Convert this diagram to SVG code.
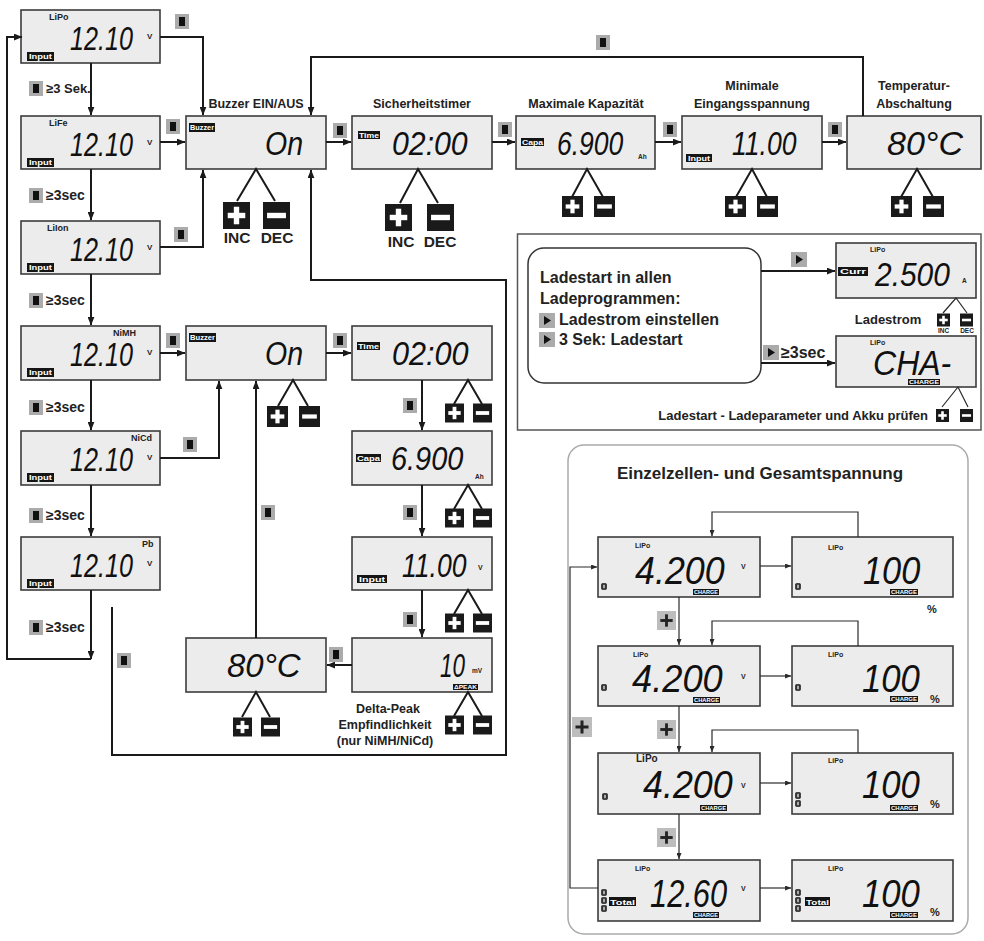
<svg xmlns="http://www.w3.org/2000/svg" width="984" height="941" viewBox="0 0 984 941">
<style>
.lcd{fill:#ececec;stroke:#3c3c3c;stroke-width:1.6}
.ln{fill:none;stroke:#1a1a1a;stroke-width:2}
.lt{fill:none;stroke:#2a2a2a;stroke-width:1.2}
.d{font-family:"Liberation Sans",Arial,sans-serif;font-style:italic;fill:#111}
.b{font-family:"Liberation Sans",Arial,Helvetica,sans-serif;font-weight:bold;fill:#222}
.tg{fill:#151515}
.tt{font-family:"Liberation Sans",Arial,sans-serif;font-weight:bold;fill:#fff}
.pnl{fill:none;stroke:#555;stroke-width:1.5}
</style>
<defs>
<marker id="a" viewBox="0 0 10 8" refX="9.5" refY="4" markerWidth="9" markerHeight="7" markerUnits="userSpaceOnUse" orient="auto"><path d="M0,0 L10,4 L0,8 z" fill="#1a1a1a"/></marker>
<marker id="as" viewBox="0 0 10 8" refX="9.5" refY="4" markerWidth="7" markerHeight="5" markerUnits="userSpaceOnUse" orient="auto"><path d="M0,0 L10,4 L0,8 z" fill="#2a2a2a"/></marker>
<symbol id="btn" viewBox="0 0 14 15"><rect width="14" height="15" fill="#ababab"/><rect x="4" y="3" width="6" height="9" fill="#111"/></symbol>
<symbol id="tri" viewBox="0 0 16 15"><rect width="16" height="15" fill="#ababab"/><path d="M5,3 L12,7.5 L5,12 z" fill="#111"/></symbol>
<symbol id="plus" viewBox="0 0 20 20"><rect width="20" height="20" fill="#1a1a1a"/><rect x="3.5" y="8" width="13" height="4" fill="#fff"/><rect x="8" y="3.5" width="4" height="13" fill="#fff"/></symbol>
<symbol id="minus" viewBox="0 0 20 20"><rect width="20" height="20" fill="#1a1a1a"/><rect x="3" y="8" width="14" height="4" fill="#fff"/></symbol>
<symbol id="gplus" viewBox="0 0 20 20"><rect width="20" height="20" fill="#bdbdbd"/><rect x="3.5" y="8.5" width="13" height="3" fill="#222"/><rect x="8.5" y="3.5" width="3" height="13" fill="#222"/></symbol>
<symbol id="cell" viewBox="0 0 6 7"><rect x="0.5" y="0.5" width="5" height="6" rx="1" fill="#333" stroke="#111" stroke-width="0.6"/><rect x="2.3" y="1.8" width="1.4" height="3.4" fill="#ddd"/></symbol>
</defs>

<!-- left column -->
<g id="n-lipo">
<rect class="lcd" x="21" y="10" width="139" height="53"/>
<text class="b" x="49" y="20" font-size="9">LiPo</text>
<text class="d" transform="translate(70,50) scale(0.74,1)" font-size="34">12.10</text>
<text class="b" x="147" y="39" font-size="8">V</text>
<rect class="tg" x="27" y="52" width="27" height="9"/>
<text class="tt" x="29" y="59.3" font-size="7.5" textLength="23" lengthAdjust="spacingAndGlyphs">Input</text>
</g>
<g id="n-life">
<rect class="lcd" x="21" y="116" width="139" height="53"/>
<text class="b" x="49" y="126" font-size="9">LiFe</text>
<text class="d" transform="translate(70,156) scale(0.74,1)" font-size="34">12.10</text>
<text class="b" x="147" y="145" font-size="8">V</text>
<rect class="tg" x="27" y="158" width="27" height="9"/>
<text class="tt" x="29" y="165.3" font-size="7.5" textLength="23" lengthAdjust="spacingAndGlyphs">Input</text>
</g>
<g id="n-liion">
<rect class="lcd" x="21" y="221" width="139" height="53"/>
<text class="b" x="47" y="231" font-size="9">LiIon</text>
<text class="d" transform="translate(70,261) scale(0.74,1)" font-size="34">12.10</text>
<text class="b" x="147" y="250" font-size="8">V</text>
<rect class="tg" x="27" y="263" width="27" height="9"/>
<text class="tt" x="29" y="270.3" font-size="7.5" textLength="23" lengthAdjust="spacingAndGlyphs">Input</text>
</g>
<g id="n-nimh">
<rect class="lcd" x="21" y="326" width="139" height="54"/>
<text class="b" x="113" y="336" font-size="9">NiMH</text>
<text class="d" transform="translate(70,366) scale(0.74,1)" font-size="34">12.10</text>
<text class="b" x="147" y="355" font-size="8">V</text>
<rect class="tg" x="27" y="368" width="27" height="9"/>
<text class="tt" x="29" y="375.3" font-size="7.5" textLength="23" lengthAdjust="spacingAndGlyphs">Input</text>
</g>
<g id="n-nicd">
<rect class="lcd" x="21" y="431" width="139" height="54"/>
<text class="b" x="131" y="441" font-size="9">NiCd</text>
<text class="d" transform="translate(70,471) scale(0.74,1)" font-size="34">12.10</text>
<text class="b" x="147" y="460" font-size="8">V</text>
<rect class="tg" x="27" y="473" width="27" height="9"/>
<text class="tt" x="29" y="480.3" font-size="7.5" textLength="23" lengthAdjust="spacingAndGlyphs">Input</text>
</g>
<g id="n-pb">
<rect class="lcd" x="21" y="537" width="139" height="53"/>
<text class="b" x="142" y="547" font-size="9">Pb</text>
<text class="d" transform="translate(70,577) scale(0.74,1)" font-size="34">12.10</text>
<text class="b" x="147" y="566" font-size="8">V</text>
<rect class="tg" x="27" y="579" width="27" height="9"/>
<text class="tt" x="29" y="586.3" font-size="7.5" textLength="23" lengthAdjust="spacingAndGlyphs">Input</text>
</g>

<!-- top row -->
<g id="n-buzzer">
<text class="b" x="256" y="108" font-size="12.5" text-anchor="middle">Buzzer EIN/AUS</text>
<rect class="lcd" x="186" y="116" width="140" height="53"/>
<rect class="tg" x="189" y="123" width="26" height="9"/>
<text class="tt" x="190" y="130.3" font-size="7" textLength="24" lengthAdjust="spacingAndGlyphs">Buzzer</text>
<text class="d" transform="translate(265,155) scale(0.84,1)" font-size="34">On</text>
<path class="ln" d="M237,201 L256,169 L275,201"/>
<use href="#plus" x="223" y="202" width="27" height="27"/>
<use href="#minus" x="263" y="202" width="27" height="27"/>
<text class="b" x="237" y="243" font-size="15.5" text-anchor="middle">INC</text>
<text class="b" x="277" y="243" font-size="15.5" text-anchor="middle">DEC</text>
</g>
<g id="n-timer">
<text class="b" x="422" y="108" font-size="12.5" text-anchor="middle">Sicherheitstimer</text>
<rect class="lcd" x="352" y="116" width="140" height="53"/>
<rect class="tg" x="358" y="131" width="22" height="8"/>
<text class="tt" x="359" y="137.5" font-size="7" textLength="20" lengthAdjust="spacingAndGlyphs">Time</text>
<text class="d" transform="translate(392,155) scale(0.89,1)" font-size="34">02:00</text>
<path class="ln" d="M400,203 L418,169 L438,203"/>
<use href="#plus" x="385" y="204" width="27" height="27"/>
<use href="#minus" x="427" y="204" width="27" height="27"/>
<text class="b" x="401" y="247" font-size="15.5" text-anchor="middle">INC</text>
<text class="b" x="440" y="247" font-size="15.5" text-anchor="middle">DEC</text>
</g>
<g id="n-capa">
<text class="b" x="586" y="108" font-size="12.5" text-anchor="middle">Maximale Kapazität</text>
<rect class="lcd" x="516" y="116" width="139" height="53"/>
<rect class="tg" x="521" y="138" width="23" height="8"/>
<text class="tt" x="522" y="144.5" font-size="7" textLength="21" lengthAdjust="spacingAndGlyphs">Capa</text>
<text class="d" transform="translate(557,155) scale(0.78,1)" font-size="34">6.900</text>
<text class="b" x="638" y="159" font-size="6.5">Ah</text>
<path class="ln" d="M572,197 L587,169 L603,197"/>
<use href="#plus" x="562" y="196" width="21" height="21"/>
<use href="#minus" x="594" y="196" width="21" height="21"/>
</g>
<g id="n-input">
<text class="b" x="752" y="90" font-size="12.5" text-anchor="middle">Minimale</text>
<text class="b" x="752" y="108" font-size="12.5" text-anchor="middle">Eingangsspannung</text>
<rect class="lcd" x="682" y="116" width="140" height="53"/>
<text class="d" transform="translate(732,155) scale(0.78,1)" font-size="34">11.00</text>
<rect class="tg" x="686" y="154" width="26" height="8"/>
<text class="tt" x="688" y="160.8" font-size="7" textLength="22" lengthAdjust="spacingAndGlyphs">Input</text>
<path class="ln" d="M736,197 L752,169 L767,197"/>
<use href="#plus" x="725" y="196" width="21" height="21"/>
<use href="#minus" x="757" y="196" width="21" height="21"/>
</g>
<g id="n-temp">
<text class="b" x="914" y="90" font-size="12.5" text-anchor="middle">Temperatur-</text>
<text class="b" x="914" y="108" font-size="12.5" text-anchor="middle">Abschaltung</text>
<rect class="lcd" x="847" y="116" width="134" height="53"/>
<text class="d" x="887" y="155" font-size="34">80°C</text>
<path class="ln" d="M901,197 L917,169 L933,197"/>
<use href="#plus" x="891" y="196" width="21" height="21"/>
<use href="#minus" x="923" y="196" width="21" height="21"/>
</g>

<!-- middle NiMH/NiCd chain -->
<g id="n-buzzer2">
<rect class="lcd" x="186" y="326" width="140" height="54"/>
<rect class="tg" x="189" y="333" width="27" height="9"/>
<text class="tt" x="190" y="340.3" font-size="7" textLength="25" lengthAdjust="spacingAndGlyphs">Buzzer</text>
<text class="d" transform="translate(265,365) scale(0.84,1)" font-size="34">On</text>
<path class="ln" d="M278,406 L293,380 L308,406"/>
<use href="#plus" x="267" y="406" width="21" height="21"/>
<use href="#minus" x="299" y="406" width="21" height="21"/>
</g>
<g id="n-time2">
<rect class="lcd" x="352" y="326" width="140" height="54"/>
<rect class="tg" x="357" y="342" width="23" height="8"/>
<text class="tt" x="358" y="348.5" font-size="7" textLength="21" lengthAdjust="spacingAndGlyphs">Time</text>
<text class="d" transform="translate(392,365) scale(0.9,1)" font-size="34">02:00</text>
<path class="ln" d="M454,404 L468,380 L482,404"/>
<use href="#plus" x="445" y="403" width="19" height="20"/>
<use href="#minus" x="473" y="403" width="19" height="20"/>
</g>
<g id="n-capa2">
<rect class="lcd" x="352" y="431" width="140" height="54"/>
<rect class="tg" x="356" y="454" width="25" height="8"/>
<text class="tt" x="357" y="460.5" font-size="7" textLength="23" lengthAdjust="spacingAndGlyphs">Capa</text>
<text class="d" transform="translate(391,470) scale(0.85,1)" font-size="34">6.900</text>
<text class="b" x="475" y="479" font-size="6.5">Ah</text>
<path class="ln" d="M454,509 L468,485 L482,509"/>
<use href="#plus" x="445" y="508" width="19" height="20"/>
<use href="#minus" x="473" y="508" width="19" height="20"/>
</g>
<g id="n-input2">
<rect class="lcd" x="352" y="537" width="140" height="53"/>
<text class="d" transform="translate(402,577) scale(0.78,1)" font-size="34">11.00</text>
<text class="b" x="478" y="570" font-size="7">V</text>
<rect class="tg" x="357" y="575" width="30" height="8"/>
<text class="tt" x="359" y="581.8" font-size="7.5" textLength="26" lengthAdjust="spacingAndGlyphs">Input</text>
<path class="ln" d="M454,614 L468,590 L482,614"/>
<use href="#plus" x="445" y="613" width="19" height="20"/>
<use href="#minus" x="473" y="613" width="19" height="20"/>
</g>
<g id="n-delta">
<rect class="lcd" x="352" y="638" width="140" height="54"/>
<text class="d" transform="translate(440,677) scale(0.66,1)" font-size="34">10</text>
<text class="b" x="472" y="673" font-size="6.5">mV</text>
<rect class="tg" x="453" y="684" width="25" height="6"/>
<text class="tt" x="454" y="689" font-size="5" textLength="23" lengthAdjust="spacingAndGlyphs">ΔPEAK</text>
<path class="ln" d="M454,716 L468,692 L482,716"/>
<use href="#plus" x="445" y="715" width="19" height="20"/>
<use href="#minus" x="473" y="715" width="19" height="20"/>
<text class="b" x="388" y="713" font-size="12.5" text-anchor="middle">Delta-Peak</text>
<text class="b" x="385" y="729" font-size="12.5" text-anchor="middle">Empfindlichkeit</text>
<text class="b" x="385" y="745" font-size="12.5" text-anchor="middle">(nur NiMH/NiCd)</text>
</g>
<g id="n-temp2">
<rect class="lcd" x="186" y="638" width="140" height="54"/>
<text class="d" transform="translate(227,677) scale(0.97,1)" font-size="34">80°C</text>
<path class="ln" d="M242,717 L256,692 L270,717"/>
<use href="#plus" x="233" y="717" width="19" height="20"/>
<use href="#minus" x="261" y="717" width="19" height="20"/>
</g>

<!-- charge start panel -->
<g id="n-charge-panel">
<rect class="pnl" x="517.5" y="234" width="463.5" height="196"/>
<rect x="528" y="248" width="233" height="135" rx="16" fill="#fff" stroke="#333" stroke-width="1.5"/>
<text class="b" x="540" y="283" font-size="16">Ladestart in allen</text>
<text class="b" x="540" y="304" font-size="16">Ladeprogrammen:</text>
<use href="#tri" x="539" y="313" width="16" height="15"/>
<text class="b" x="559" y="325" font-size="16">Ladestrom einstellen</text>
<use href="#tri" x="539" y="332" width="16" height="15"/>
<text class="b" x="559" y="345" font-size="16">3 Sek: Ladestart</text>
</g>
<g id="n-curr">
<rect class="lcd" x="836" y="243" width="140" height="55"/>
<text class="b" x="870" y="252" font-size="7">LiPo</text>
<rect class="tg" x="838" y="267" width="30" height="9"/>
<text class="tt" x="840" y="274.3" font-size="7.5" textLength="26" lengthAdjust="spacingAndGlyphs">Curr</text>
<text class="d" transform="translate(875,286) scale(0.88,1)" font-size="34">2.500</text>
<text class="b" x="962" y="283" font-size="6.5">A</text>
<path class="lt" d="M943,313 L956,298 L967,313" stroke-width="1.5"/>
<use href="#plus" x="937" y="313" width="13" height="14"/>
<use href="#minus" x="960" y="313" width="13" height="14"/>
<text class="b" x="943.5" y="333" font-size="6.5" text-anchor="middle">INC</text>
<text class="b" x="967" y="333" font-size="6.5" text-anchor="middle">DEC</text>
<text class="b" x="888" y="324" font-size="13" text-anchor="middle">Ladestrom</text>
</g>
<g id="n-cha">
<rect class="lcd" x="836" y="336" width="140" height="51"/>
<text class="b" x="870" y="345" font-size="7">LiPo</text>
<text class="d" transform="translate(873,375) scale(0.89,1)" font-size="36">CHA-</text>
<rect class="tg" x="908" y="379" width="32" height="6"/>
<text class="tt" x="909" y="384" font-size="5" textLength="30" lengthAdjust="spacingAndGlyphs">CHARGE</text>
<path class="lt" d="M942,407 L958,387 L968,407" stroke-width="1.5"/>
<use href="#plus" x="936" y="407" width="13" height="17"/>
<use href="#minus" x="960" y="407" width="13" height="17"/>
<text class="b" x="928" y="420" font-size="13" text-anchor="end">Ladestart - Ladeparameter und Akku prüfen</text>
</g>

<!-- cell voltage panel -->
<g id="n-cell-panel">
<rect x="568" y="445" width="400" height="489" rx="16" fill="none" stroke="#aaa" stroke-width="1.5"/>
<text class="b" x="760" y="479" font-size="17" text-anchor="middle">Einzelzellen- und Gesamtspannung</text>
</g>
<g id="n-c1v">
<rect class="lcd" x="598" y="537" width="162" height="60" stroke-width="1.3"/>
<text class="b" x="635" y="548" font-size="7">LiPo</text>
<text class="d" transform="translate(635,584) scale(0.92,1)" font-size="39">4.200</text>
<text class="b" x="741" y="569" font-size="7">V</text>
<use href="#cell" x="601" y="583" width="6" height="7"/>
<rect class="tg" x="693" y="589" width="26" height="6"/>
<text class="tt" x="694" y="594" font-size="5" textLength="24" lengthAdjust="spacingAndGlyphs">CHARGE</text>
</g>
<g id="n-c1p">
<rect class="lcd" x="792" y="537" width="161" height="60" stroke-width="1.3"/>
<text class="b" x="828" y="550" font-size="7">LiPo</text>
<text class="d" transform="translate(863,584) scale(0.88,1)" font-size="39">100</text>
<use href="#cell" x="795" y="583" width="6" height="7"/>
<rect class="tg" x="890" y="589" width="28" height="6"/>
<text class="tt" x="891" y="594" font-size="5" textLength="26" lengthAdjust="spacingAndGlyphs">CHARGE</text>
<text class="b" x="927" y="613" font-size="11">%</text>
</g>
<g id="n-c2v">
<rect class="lcd" x="598" y="646" width="162" height="60" stroke-width="1.3"/>
<text class="b" x="633" y="657" font-size="7">LiPo</text>
<text class="d" transform="translate(632,692) scale(0.93,1)" font-size="39">4.200</text>
<text class="b" x="741" y="679" font-size="7">V</text>
<use href="#cell" x="601" y="684" width="6" height="7"/>
<rect class="tg" x="693" y="697" width="27" height="6"/>
<text class="tt" x="694" y="702" font-size="5" textLength="25" lengthAdjust="spacingAndGlyphs">CHARGE</text>
</g>
<g id="n-c2p">
<rect class="lcd" x="792" y="646" width="161" height="60" stroke-width="1.3"/>
<text class="b" x="828" y="657" font-size="7">LiPo</text>
<text class="d" transform="translate(862,692) scale(0.89,1)" font-size="39">100</text>
<use href="#cell" x="795" y="684" width="6" height="7"/>
<rect class="tg" x="890" y="696" width="28" height="6"/>
<text class="tt" x="891" y="701" font-size="5" textLength="26" lengthAdjust="spacingAndGlyphs">CHARGE</text>
<text class="b" x="930" y="703" font-size="11">%</text>
</g>
<g id="n-c3v">
<rect class="lcd" x="598" y="753" width="162" height="61" stroke-width="1.3"/>
<text class="b" x="636" y="762" font-size="10">LiPo</text>
<text class="d" transform="translate(643,798) scale(0.92,1)" font-size="39">4.200</text>
<text class="b" x="741" y="788" font-size="7">V</text>
<use href="#cell" x="602" y="793" width="6" height="7"/>
<rect class="tg" x="700" y="805" width="27" height="6"/>
<text class="tt" x="701" y="810" font-size="5" textLength="25" lengthAdjust="spacingAndGlyphs">CHARGE</text>
</g>
<g id="n-c3p">
<rect class="lcd" x="792" y="753" width="161" height="61" stroke-width="1.3"/>
<text class="b" x="828" y="763" font-size="7">LiPo</text>
<text class="d" transform="translate(862,798) scale(0.89,1)" font-size="39">100</text>
<use href="#cell" x="795" y="792" width="6" height="7"/>
<use href="#cell" x="795" y="800" width="6" height="7"/>
<rect class="tg" x="890" y="805" width="28" height="6"/>
<text class="tt" x="891" y="810" font-size="5" textLength="26" lengthAdjust="spacingAndGlyphs">CHARGE</text>
<text class="b" x="930" y="808" font-size="11">%</text>
</g>
<g id="n-c4v">
<rect class="lcd" x="598" y="860" width="162" height="61" stroke-width="1.3"/>
<text class="b" x="635" y="871" font-size="7">LiPo</text>
<text class="d" transform="translate(650,907) scale(0.79,1)" font-size="39">12.60</text>
<text class="b" x="741" y="891" font-size="7">V</text>
<use href="#cell" x="601" y="889" width="6" height="7"/>
<use href="#cell" x="601" y="897" width="6" height="7"/>
<use href="#cell" x="601" y="905" width="6" height="7"/>
<rect class="tg" x="609" y="897" width="27" height="9"/>
<text class="tt" x="610" y="904.5" font-size="8" textLength="25" lengthAdjust="spacingAndGlyphs">Total</text>
<rect class="tg" x="693" y="912" width="26" height="6"/>
<text class="tt" x="694" y="917" font-size="5" textLength="24" lengthAdjust="spacingAndGlyphs">CHARGE</text>
</g>
<g id="n-c4p">
<rect class="lcd" x="792" y="860" width="161" height="61" stroke-width="1.3"/>
<text class="b" x="828" y="871" font-size="7">LiPo</text>
<text class="d" transform="translate(862,907) scale(0.89,1)" font-size="39">100</text>
<use href="#cell" x="795" y="889" width="6" height="7"/>
<use href="#cell" x="795" y="897" width="6" height="7"/>
<use href="#cell" x="795" y="905" width="6" height="7"/>
<rect class="tg" x="805" y="897" width="25" height="9"/>
<text class="tt" x="806" y="904.5" font-size="8" textLength="23" lengthAdjust="spacingAndGlyphs">Total</text>
<rect class="tg" x="890" y="912" width="28" height="6"/>
<text class="tt" x="891" y="917" font-size="5" textLength="26" lengthAdjust="spacingAndGlyphs">CHARGE</text>
<text class="b" x="930" y="916" font-size="11">%</text>
</g>

<!-- connectors -->
<g id="connectors">
<path class="ln" d="M91,63 V115" marker-end="url(#a)"/>
<path class="ln" d="M91,169 V220" marker-end="url(#a)"/>
<path class="ln" d="M91,274 V325" marker-end="url(#a)"/>
<path class="ln" d="M91,380 V430" marker-end="url(#a)"/>
<path class="ln" d="M91,485 V536" marker-end="url(#a)"/>
<path class="ln" d="M91,590 V659" marker-end="url(#a)"/>
<path class="ln" d="M91,659 H7 V37 H22" marker-end="url(#a)"/>
<path class="ln" d="M160,37 H203 V115" marker-end="url(#a)"/>
<path class="ln" d="M160,142 H185" marker-end="url(#a)"/>
<path class="ln" d="M160,247 H203 V170" marker-end="url(#a)"/>
<path class="ln" d="M863,116 V57 H311 V115" marker-end="url(#a)"/>
<path class="ln" d="M326,142 H351" marker-end="url(#a)"/>
<path class="ln" d="M492,142 H515" marker-end="url(#a)"/>
<path class="ln" d="M655,142 H681" marker-end="url(#a)"/>
<path class="ln" d="M822,142 H846" marker-end="url(#a)"/>
<path class="ln" d="M112,607 V755 H506 V280 H311 V170" marker-end="url(#a)"/>
<path class="ln" d="M160,353 H185" marker-end="url(#a)"/>
<path class="ln" d="M160,458 H219 V381" marker-end="url(#a)"/>
<path class="ln" d="M326,353 H351" marker-end="url(#a)"/>
<path class="ln" d="M422,380 V430" marker-end="url(#a)"/>
<path class="ln" d="M422,485 V536" marker-end="url(#a)"/>
<path class="ln" d="M422,590 V637" marker-end="url(#a)"/>
<path class="ln" d="M352,665 H327" marker-end="url(#a)"/>
<path class="ln" d="M256,638 V381" marker-end="url(#a)"/>
<path class="ln" d="M761,271 H835" marker-end="url(#a)"/>
<path class="ln" d="M761,363 H835" marker-end="url(#a)"/>
<path class="lt" d="M858,537 V512 H712 V536" marker-end="url(#as)"/>
<path class="lt" d="M858,646 V621 H712 V645" marker-end="url(#as)"/>
<path class="lt" d="M858,753 V730 H712 V752" marker-end="url(#as)"/>
<path class="lt" d="M760,566 H791" marker-end="url(#as)"/>
<path class="lt" d="M760,676 H791" marker-end="url(#as)"/>
<path class="lt" d="M760,783 H791" marker-end="url(#as)"/>
<path class="lt" d="M760,888 H791" marker-end="url(#as)"/>
<path class="lt" d="M679,597 V645" marker-end="url(#as)"/>
<path class="lt" d="M679,706 V752" marker-end="url(#as)"/>
<path class="lt" d="M679,814 V859" marker-end="url(#as)"/>
<path class="lt" d="M598,888 H570 V567 H597" marker-end="url(#as)"/>
<!-- connector labels -->
<use href="#btn" x="29" y="81" width="14" height="15"/>
<text class="b" x="46" y="93" font-size="13">≥3 Sek.</text>
<use href="#btn" x="29" y="188" width="14" height="15"/>
<text class="b" x="46" y="200" font-size="14">≥3sec</text>
<use href="#btn" x="29" y="293" width="14" height="15"/>
<text class="b" x="46" y="305" font-size="14">≥3sec</text>
<use href="#btn" x="29" y="400" width="14" height="15"/>
<text class="b" x="46" y="412" font-size="14">≥3sec</text>
<use href="#btn" x="29" y="508" width="14" height="15"/>
<text class="b" x="46" y="520" font-size="14">≥3sec</text>
<use href="#btn" x="29" y="620" width="14" height="15"/>
<text class="b" x="46" y="632" font-size="14">≥3sec</text>
<use href="#btn" x="175" y="14" width="14" height="15"/>
<use href="#btn" x="166" y="119" width="14" height="15"/>
<use href="#btn" x="174" y="227" width="14" height="15"/>
<use href="#btn" x="596" y="35" width="14" height="15"/>
<use href="#btn" x="333" y="123" width="14" height="15"/>
<use href="#btn" x="498" y="122" width="14" height="15"/>
<use href="#btn" x="663" y="122" width="14" height="15"/>
<use href="#btn" x="828" y="122" width="14" height="15"/>
<use href="#btn" x="166" y="333" width="14" height="15"/>
<use href="#btn" x="183" y="437" width="14" height="15"/>
<use href="#btn" x="333" y="333" width="14" height="15"/>
<use href="#btn" x="403" y="398" width="14" height="15"/>
<use href="#btn" x="403" y="505" width="14" height="15"/>
<use href="#btn" x="403" y="612" width="14" height="15"/>
<use href="#btn" x="329" y="647" width="14" height="15"/>
<use href="#btn" x="261" y="505" width="14" height="15"/>
<use href="#btn" x="117" y="653" width="14" height="15"/>
<use href="#tri" x="791" y="252" width="16" height="15"/>
<use href="#tri" x="763" y="345" width="16" height="15"/>
<text class="b" x="781" y="358" font-size="16">≥3sec</text>
<use href="#gplus" x="657" y="611" width="19" height="19"/>
<use href="#gplus" x="657" y="720" width="19" height="19"/>
<use href="#gplus" x="657" y="828" width="19" height="19"/>
<use href="#gplus" x="572" y="717" width="20" height="20"/>
</g>
</svg>
